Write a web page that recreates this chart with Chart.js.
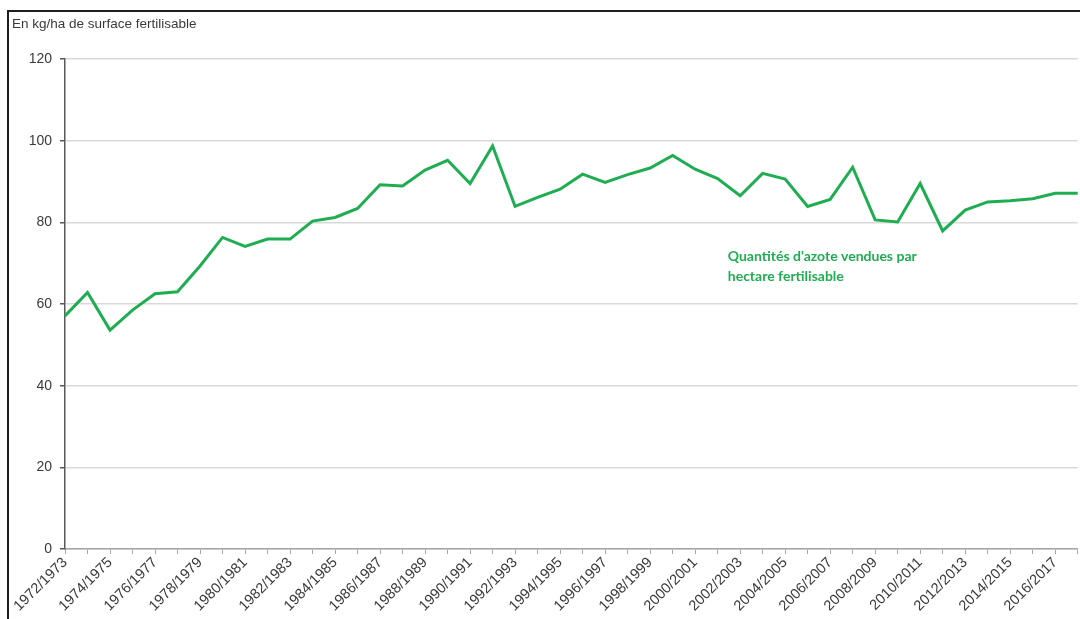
<!DOCTYPE html>
<html>
<head>
<meta charset="utf-8">
<script src="https://cdn.jsdelivr.net/npm/chart.js@4.4.1/dist/chart.umd.min.js"></script>
<style>
  html, body { margin: 0; padding: 0; background: #fff; overflow: hidden; }
  body { width: 1080px; height: 619px; position: relative; }
  #wrap { position: absolute; left: 0; top: 0; width: 1090px; height: 619px; }
  .frame-top { position: absolute; left: 7px; top: 10px; width: 1080px; height: 2px; background: #1e1e1e; }
  .frame-left { position: absolute; left: 7px; top: 10px; width: 2px; height: 620px; background: #1e1e1e; }
</style>
</head>
<body>
<div id="wrap"><canvas id="chart" width="1090" height="619"></canvas></div>
<div class="frame-top"></div>
<div class="frame-left"></div>
<script>
// Campagnes (1972/1973 ... 2017/2018)
const campaigns = [
  '1972/1973', '1973/1974', '1974/1975', '1975/1976', '1976/1977', '1977/1978',
  '1978/1979', '1979/1980', '1980/1981', '1981/1982', '1982/1983', '1983/1984',
  '1984/1985', '1985/1986', '1986/1987', '1987/1988', '1988/1989', '1989/1990',
  '1990/1991', '1991/1992', '1992/1993', '1993/1994', '1994/1995', '1995/1996',
  '1996/1997', '1997/1998', '1998/1999', '1999/2000', '2000/2001', '2001/2002',
  '2002/2003', '2003/2004', '2004/2005', '2005/2006', '2006/2007', '2007/2008',
  '2008/2009', '2009/2010', '2010/2011', '2011/2012', '2012/2013', '2013/2014',
  '2014/2015', '2015/2016', '2016/2017', '2017/2018'
];

// Quantités d'azote vendues par hectare fertilisable (kg/ha)
const azote = [
  57.1, 62.8, 53.6, 58.5, 62.5, 63.0, 69.3, 76.3, 74.1, 75.9,
  75.9, 80.3, 81.2, 83.4, 89.2, 88.9, 92.8, 95.2, 89.5, 98.7,
  83.9, 86.1, 88.1, 91.8, 89.8, 91.7, 93.3, 96.4, 93.0, 90.7,
  86.5, 92.0, 90.6, 83.9, 85.6, 93.5, 80.6, 80.1, 89.5, 77.9,
  83.0, 85.0, 85.3, 85.8, 87.1, 87.1
];

const yTicks = [0, 20, 40, 60, 80, 100, 120];

const unitLabel = 'En kg/ha de surface fertilisable';
const seriesLabel = ["Quantités d'azote vendues par", 'hectare fertilisable'];

const GREEN = '#1fad52';
const TEXT = '#3a3a3a';

// Unit label + series annotation
const textPlugin = {
  id: 'texts',
  afterDraw(chart) {
    const { ctx, scales: { x, y } } = chart;
    ctx.save();
    ctx.fillStyle = TEXT;
    ctx.font = '13.5px "Liberation Sans", Arial, sans-serif';
    ctx.textAlign = 'left';
    ctx.textBaseline = 'middle';
    ctx.fillText(unitLabel, 12, 24);

    ctx.fillStyle = GREEN;
    ctx.font = 'bold 14px Lato, sans-serif';
    const ax = x.getPixelForValue(29.45);
    const ay = y.getPixelForValue(71.6);
    ctx.fillText(seriesLabel[0], ax, ay);
    ctx.fillText(seriesLabel[1], ax, ay + 20);
    ctx.restore();
  }
};

new Chart(document.getElementById('chart').getContext('2d'), {
  type: 'line',
  data: {
    labels: campaigns,
    datasets: [{
      label: seriesLabel.join(' '),
      data: azote,
      borderColor: GREEN,
      borderWidth: 3,
      pointRadius: 0,
      tension: 0,
      fill: false
    }]
  },
  options: {
    responsive: false,
    animation: false,
    layout: { padding: { top: 59, right: 7, left: 0, bottom: 0 } },
    plugins: {
      legend: { display: false },
      tooltip: { enabled: false }
    },
    scales: {
      x: {
        type: 'category',
        offset: false,
        afterFit(s) { s.height = 70; },
        grid: {
          drawOnChartArea: false,
          drawTicks: true,
          tickLength: 5,
          tickColor: '#a6a6a6'
        },
        border: { color: '#a6a6a6', width: 1.5 },
        ticks: {
          autoSkip: false,
          maxRotation: 45,
          minRotation: 45,
          padding: 0,
          color: TEXT,
          font: { family: '"Liberation Sans", Arial, sans-serif', size: 14.5 },
          callback(value, index) { return index % 2 === 0 ? campaigns[index] : ''; }
        }
      },
      y: {
        min: 0,
        max: 120,
        afterFit(s) { s.width = 65; },
        afterBuildTicks(s) { s.ticks = yTicks.map(v => ({ value: v })); },
        grid: {
          color: '#d9d9d9',
          lineWidth: 1.5,
          tickLength: 5,
          tickColor: '#595959'
        },
        border: { color: '#595959', width: 1.5 },
        ticks: {
          padding: 8,
          color: TEXT,
          font: { family: '"Liberation Sans", Arial, sans-serif', size: 14 }
        }
      }
    }
  },
  plugins: [textPlugin]
});
</script>
</body>
</html>
